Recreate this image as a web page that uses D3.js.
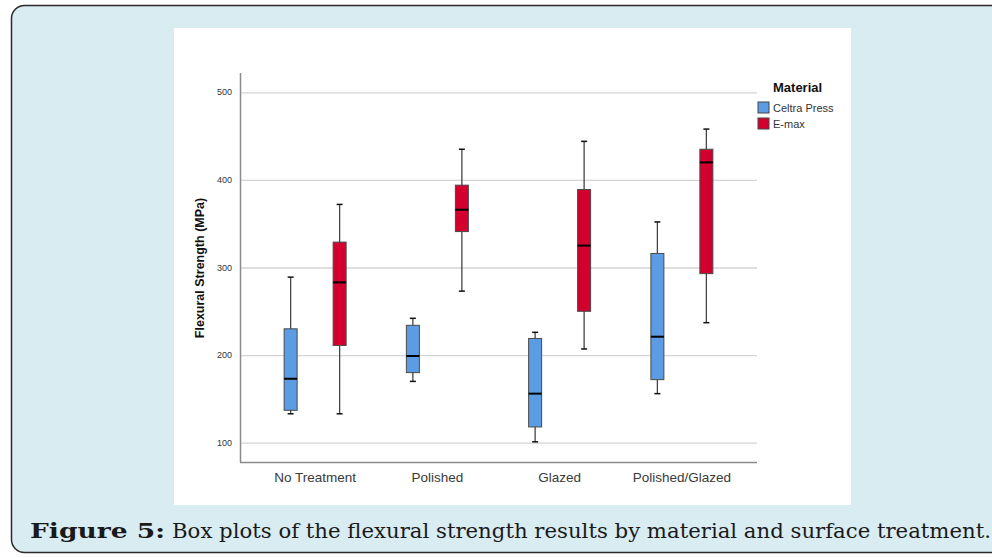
<!DOCTYPE html>
<html>
<head>
<meta charset="utf-8">
<script src="https://cdn.jsdelivr.net/npm/d3@7"></script>
<style>
  html, body { margin: 0; padding: 0; background: #fff; }
  svg { display: block; }
</style>
</head>
<body>
<div id="chart"></div>
<script>
// surface treatments on the x axis
var treatments = ["No Treatment", "Polished", "Glazed", "Polished/Glazed"];
var materials = ["Celtra Press", "E-max"];
var yTicks = [100, 200, 300, 400, 500];

// box stats: [lower whisker, Q1, median, Q3, upper whisker]
var celtra = [
  [133, 137, 173, 230, 289],
  [170, 180, 199, 234, 242],
  [101, 118, 156, 219, 226],
  [156, 172, 221, 316, 352]
];
var emax = [
  [133, 211, 283, 329, 372],
  [273, 341, 366, 394, 435],
  [207, 250, 325, 389, 444],
  [237, 293, 420, 435, 458]
];

var colors = { "Celtra Press": "#5b9ce4", "E-max": "#d3002f" };

var W = 992, H = 558;
var svg = d3.select("#chart").append("svg")
    .attr("width", W)
    .attr("height", H);

// page background + rounded frame
svg.append("rect").attr("width", W).attr("height", H).attr("fill", "#fff");
svg.append("rect")
    .attr("x", 11.5).attr("y", 5.5)
    .attr("width", 1000).attr("height", 547)
    .attr("rx", 13)
    .attr("fill", "#d8ecf2")
    .attr("stroke", "#2b2b2b")
    .attr("stroke-width", 1.5);

// white chart panel
svg.append("rect")
    .attr("x", 174).attr("y", 28)
    .attr("width", 677).attr("height", 477)
    .attr("fill", "#fff");

var plotL = 240, plotR = 757, plotT = 73, plotB = 462;

var y = d3.scaleLinear().domain([100, 500]).range([442.7, 92.3]);
var x = d3.scaleBand().domain(treatments).range([254, 743]);
var xm = d3.scalePoint().domain(materials).range([-24.5, 24.5]);

// gridlines
svg.append("g").selectAll("line")
  .data(yTicks)
  .enter()
  .append("line")
  .attr("x1", plotL).attr("x2", plotR)
  .attr("y1", function(d) { return y(d) + 0.5 })
  .attr("y2", function(d) { return y(d) + 0.5 })
  .attr("stroke", "#d4d4d4")
  .attr("stroke-width", 1.3);

// axes lines
svg.append("line")
  .attr("x1", plotL + 0.5).attr("x2", plotL + 0.5)
  .attr("y1", plotT).attr("y2", plotB)
  .attr("stroke", "#8a8a8a").attr("stroke-width", 1.5);
svg.append("line")
  .attr("x1", plotL).attr("x2", plotR)
  .attr("y1", plotB + 0.5).attr("y2", plotB + 0.5)
  .attr("stroke", "#8a8a8a").attr("stroke-width", 1.5);

// y tick labels
svg.append("g").selectAll("text")
  .data(yTicks)
  .enter()
  .append("text")
  .attr("x", 232)
  .attr("y", function(d) { return y(d) + 3 })
  .attr("text-anchor", "end")
  .attr("font-family", "Liberation Sans, Arial, sans-serif")
  .attr("font-size", 9)
  .attr("fill", "#333")
  .text(function(d) { return d });

// x labels
svg.append("g").selectAll("text")
  .data(treatments)
  .enter()
  .append("text")
  .attr("x", function(d) { return x(d) + x.bandwidth() / 2 })
  .attr("y", 482)
  .attr("text-anchor", "middle")
  .attr("font-family", "Liberation Sans, Arial, sans-serif")
  .attr("font-size", 13.5)
  .attr("fill", "#3a3a3a")
  .text(function(d) { return d });

// y axis title
svg.append("text")
  .attr("transform", "translate(204,268) rotate(-90)")
  .attr("text-anchor", "middle")
  .attr("font-family", "Liberation Sans, Arial, sans-serif")
  .attr("font-size", 12.5)
  .attr("font-weight", "bold")
  .attr("fill", "#111")
  .text("Flexural Strength (MPa)");

// flatten box data
var boxes = [];
treatments.forEach(function(t, i) {
  boxes.push({ t: t, m: "Celtra Press", s: celtra[i] });
  boxes.push({ t: t, m: "E-max", s: emax[i] });
});

var bw = 13, cap = 6;
var g = svg.append("g").selectAll("g")
  .data(boxes)
  .enter()
  .append("g")
  .attr("transform", function(d) {
    return "translate(" + (x(d.t) + x.bandwidth() / 2 + xm(d.m)) + ",0)";
  });

// whiskers
g.append("line")
  .attr("x1", 0).attr("x2", 0)
  .attr("y1", function(d) { return y(d.s[4]) })
  .attr("y2", function(d) { return y(d.s[0]) })
  .attr("stroke", "#444").attr("stroke-width", 1.3);
g.append("line")
  .attr("x1", -cap / 2).attr("x2", cap / 2)
  .attr("y1", function(d) { return y(d.s[4]) })
  .attr("y2", function(d) { return y(d.s[4]) })
  .attr("stroke", "#111").attr("stroke-width", 1.5);
g.append("line")
  .attr("x1", -cap / 2).attr("x2", cap / 2)
  .attr("y1", function(d) { return y(d.s[0]) })
  .attr("y2", function(d) { return y(d.s[0]) })
  .attr("stroke", "#111").attr("stroke-width", 1.5);

// box
g.append("rect")
  .attr("x", -bw / 2)
  .attr("width", bw)
  .attr("y", function(d) { return y(d.s[3]) })
  .attr("height", function(d) { return y(d.s[1]) - y(d.s[3]) })
  .attr("fill", function(d) { return colors[d.m] })
  .attr("stroke", "#4a4a4a")
  .attr("stroke-width", 1);

// median
g.append("line")
  .attr("x1", -bw / 2).attr("x2", bw / 2)
  .attr("y1", function(d) { return y(d.s[2]) })
  .attr("y2", function(d) { return y(d.s[2]) })
  .attr("stroke", "#000").attr("stroke-width", 2);

// legend
svg.append("text")
  .attr("x", 773).attr("y", 92)
  .attr("font-family", "Liberation Sans, Arial, sans-serif")
  .attr("font-size", 13)
  .attr("font-weight", "bold")
  .attr("fill", "#111")
  .text("Material");

var lg = svg.append("g").selectAll("g")
  .data(materials)
  .enter()
  .append("g")
  .attr("transform", function(d, i) { return "translate(758," + (102 + i * 16) + ")" });
lg.append("rect")
  .attr("width", 11).attr("height", 11)
  .attr("fill", function(d) { return colors[d] })
  .attr("stroke", "#444").attr("stroke-width", 1);
lg.append("text")
  .attr("x", 15).attr("y", 10)
  .attr("font-family", "Liberation Sans, Arial, sans-serif")
  .attr("font-size", 11)
  .attr("fill", "#333")
  .text(function(d) { return d });

// caption, in two pieces so each part lands where the figure has it
svg.append("text")
  .attr("x", 30).attr("y", 538)
  .attr("font-family", "DejaVu Serif, serif")
  .attr("font-size", 21)
  .attr("font-weight", "bold")
  .attr("fill", "#1a1a1a")
  .attr("textLength", 135)
  .attr("lengthAdjust", "spacingAndGlyphs")
  .text("Figure 5:");
svg.append("text")
  .attr("x", 172).attr("y", 538)
  .attr("font-family", "DejaVu Serif, serif")
  .attr("font-size", 21)
  .attr("fill", "#1a1a1a")
  .attr("textLength", 819)
  .attr("lengthAdjust", "spacingAndGlyphs")
  .text("Box plots of the flexural strength results by material and surface treatment.");
</script>
</body>
</html>
